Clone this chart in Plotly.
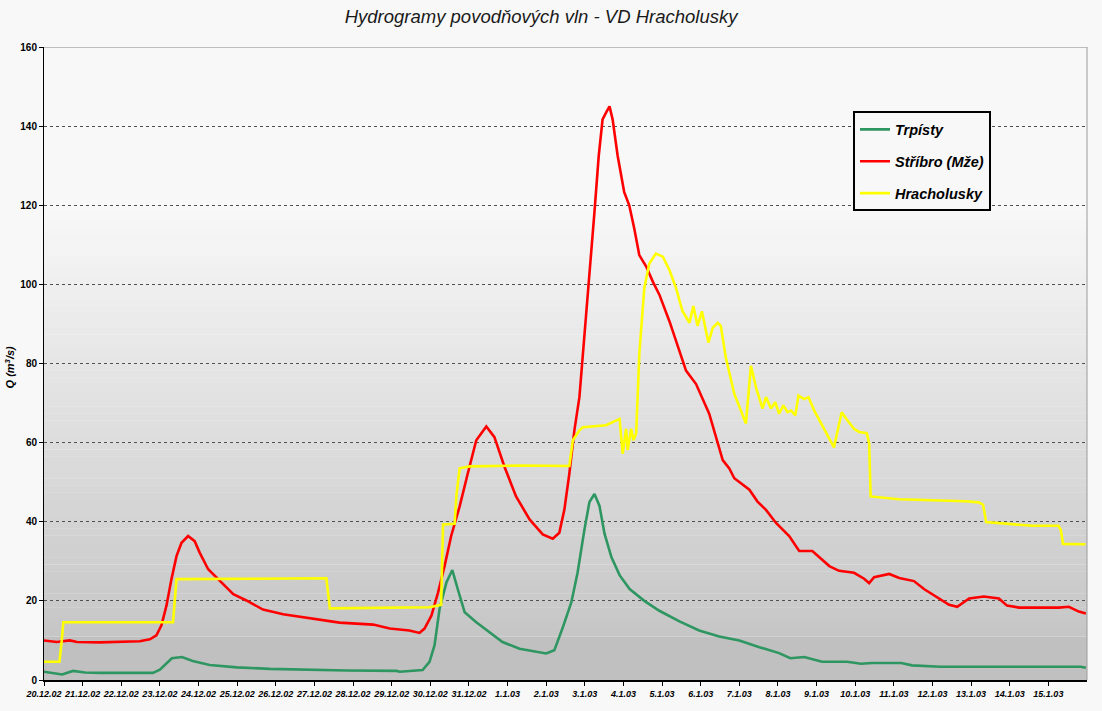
import pandas as pd
import plotly.graph_objects as go

START = "2002-12-20"
TITLE = "Hydrogramy povodňových vln - VD Hracholusky"
Y_TITLE = "Q (m<sup>3</sup>/s)"

# --- Trpísty (days since 20.12.2002 00:00, Q in m3/s)
trp_days = [0.00, 0.47, 0.75, 1.06, 1.45, 2.82, 3.00, 3.15, 3.31, 3.57, 3.85, 4.29, 4.99, 5.84,
            6.96, 7.84, 9.13, 9.21, 9.80, 9.98, 10.11, 10.24, 10.42, 10.57, 10.71, 10.89, 11.19,
            11.53, 11.87, 12.31, 12.74, 13.00, 13.21, 13.42, 13.65, 13.81, 13.99, 14.12, 14.25,
            14.38, 14.51, 14.69, 14.90, 15.16, 15.54, 15.93, 16.45, 16.96, 17.48, 18.00, 18.52,
            19.03, 19.32, 19.68, 20.14, 20.79, 21.15, 21.44, 22.19, 22.47, 23.20, 26.84, 26.97]
trp_q = [2.1, 1.4, 2.3, 1.9, 1.8, 1.8, 2.6, 4.0, 5.5, 5.8, 4.8, 3.8, 3.2, 2.8,
         2.5, 2.4, 2.3, 2.1, 2.5, 4.6, 8.8, 18.0, 24.7, 27.8, 23.0, 17.1, 14.6,
         12.1, 9.6, 7.9, 7.1, 6.7, 7.5, 13.0, 19.6, 27.0, 38.0, 45.0, 47.0,
         44.0, 37.0, 31.0, 26.5, 23.0, 20.0, 17.5, 14.8, 12.5, 11.0, 10.0, 8.3,
         6.8, 5.5, 5.8, 4.6, 4.6, 4.1, 4.3, 4.3, 3.7, 3.35, 3.35, 3.1]

# --- Stříbro (Mže)
str_days = [0.00, 0.33, 0.67, 0.85, 1.45, 2.48, 2.74, 2.91, 3.04, 3.17, 3.30, 3.43, 3.56, 3.73,
            3.90, 4.03, 4.25, 4.55, 4.90, 5.24, 5.67, 6.19, 6.96, 7.65, 8.52, 8.95, 9.46, 9.72,
            9.85, 10.03, 10.20, 10.37, 10.54, 10.76, 10.97, 11.19, 11.45, 11.66, 11.92, 12.22,
            12.57, 12.91, 13.17, 13.34, 13.47, 13.60, 13.73, 13.86, 13.95, 14.12, 14.25, 14.36,
            14.46, 14.55, 14.64, 14.72, 14.85, 15.02, 15.15, 15.28, 15.41, 15.59, 15.76, 15.93,
            16.19, 16.62, 16.88, 17.22, 17.57, 17.74, 17.87, 18.26, 18.47, 18.69, 18.95, 19.29,
            19.55, 19.89, 19.98, 20.33, 20.58, 20.97, 21.23, 21.36, 21.49, 21.88, 22.14, 22.52,
            22.78, 23.17, 23.43, 23.64, 23.95, 24.33, 24.72, 24.93, 25.24, 26.27, 26.53, 26.79,
            26.97]
str_q = [10.0, 9.6, 10.0, 9.6, 9.5, 9.8, 10.3, 11.3, 13.8, 18.8, 25.5, 31.3, 34.7, 36.4,
         35.1, 32.2, 28.0, 25.1, 21.7, 20.1, 17.8, 16.6, 15.5, 14.5, 14.0, 13.0, 12.5, 11.9,
         13.0, 16.3, 22.1, 28.8, 36.4, 43.9, 52.2, 60.6, 64.1, 61.4, 53.9, 46.4,
         40.6, 36.8, 35.7, 37.2, 43.0, 52.2, 63.1, 71.5, 82.3, 101.6, 118.3, 132.5,
         141.7, 143.4, 145.0, 141.7, 132.5, 123.3, 120.0, 114.1, 107.4, 104.5, 100.7, 97.4,
         90.7, 78.2, 74.8, 67.3, 55.6, 53.5, 51.0, 48.1, 45.1, 43.0, 39.7, 36.4,
         32.6, 32.6, 31.8, 28.8, 27.6, 27.1, 25.6, 24.5, 26.0, 26.8, 25.8, 25.0,
         23.0, 20.6, 19.0, 18.5, 20.6, 21.1, 20.6, 18.8, 18.3, 18.3, 18.5, 17.3,
         16.8]

# --- Hracholusky
hra_days = [0.00, 0.40, 0.46, 0.50, 3.34, 3.39, 3.43, 7.31, 7.36, 7.40, 9.98, 10.28, 10.33,
            10.63, 10.68, 10.76, 11.02, 12.31, 13.60, 13.69, 13.86, 13.95, 14.55, 14.90, 14.98,
            15.07, 15.11, 15.20, 15.26, 15.33, 15.41, 15.54, 15.67, 15.84, 16.02, 16.19, 16.36,
            16.53, 16.71, 16.81, 16.92, 17.03, 17.20, 17.31, 17.44, 17.52, 17.65, 17.87, 18.04,
            18.17, 18.30, 18.43, 18.60, 18.69, 18.82, 18.93, 19.03, 19.14, 19.25, 19.34, 19.45,
            19.53, 19.68, 19.79, 19.94, 20.07, 20.28, 20.45, 20.54, 20.65, 20.80, 20.97, 21.10,
            21.30, 21.36, 21.40, 22.14, 23.00, 23.86, 24.20, 24.31, 24.39, 24.98, 25.58, 26.26,
            26.32, 26.38, 26.96]
hra_q = [4.6, 4.6, 10.0, 14.6, 14.6, 20.0, 25.5, 25.7, 21.0, 18.1, 18.4, 19.0, 39.3,
         39.5, 47.0, 53.5, 54.0, 54.2, 54.1, 60.6, 63.1, 63.9, 64.4, 66.0, 57.2,
         63.5, 58.1, 63.5, 60.6, 62.3, 82.3, 99.1, 105.3, 107.8, 107.0, 103.6, 99.1,
         93.2, 90.3, 94.5, 89.5, 93.2, 85.3, 89.0, 90.3, 89.5, 81.5, 72.3, 68.1,
         64.8, 79.4, 74.0, 68.6, 71.5, 68.6, 70.2, 67.3, 69.4, 67.7, 68.1, 66.9,
         71.9, 71.0, 71.5, 68.1, 65.6, 61.9, 58.8, 63.1, 67.7, 65.6, 63.5, 62.7,
         62.4, 59.8, 46.4, 45.7, 45.5, 45.2, 44.9, 44.3, 39.9, 39.5, 39.0, 39.0,
         38.0, 34.4, 34.3]

# --- axis ticks
x_tick_dates = pd.date_range("2002-12-20", "2003-01-15", freq="D")
x_tick_labels = ["20.12.02", "21.12.02", "22.12.02", "23.12.02", "24.12.02", "25.12.02",
                 "26.12.02", "27.12.02", "28.12.02", "29.12.02", "30.12.02", "31.12.02",
                 "1.1.03", "2.1.03", "3.1.03", "4.1.03", "5.1.03", "6.1.03", "7.1.03",
                 "8.1.03", "9.1.03", "10.1.03", "11.1.03", "12.1.03", "13.1.03", "14.1.03",
                 "15.1.03"]
y_ticks = [0, 20, 40, 60, 80, 100, 120, 140, 160]

FONT = "Liberation Sans, Arial, sans-serif"


def to_dt(days):
    return pd.Timestamp(START) + pd.to_timedelta(days, unit="D")


fig = go.Figure()
series = [
    ("Trpísty", trp_days, trp_q, "#2e9661"),
    ("Stříbro (Mže)", str_days, str_q, "#ff0000"),
    ("Hracholusky", hra_days, hra_q, "#ffff00"),
]
for name, d, q, col in series:
    fig.add_trace(go.Scatter(x=to_dt(d), y=q, mode="lines", name=name, legendgroup=name,
                             line=dict(color=col, width=2.6)))

# background gradient of plot area
shapes = []
shapes.append(dict(type="rect", xref="paper", yref="y", x0=0, x1=1, y0=0, y1=11,
                   fillcolor="#c0c0c0", line=dict(width=0), layer="below"))
N = 60
lo, hi = 11.0, 120.0
c_lo, c_hi = 0xc6, 0xf8
for i in range(N):
    v0 = lo + (hi - lo) * i / N
    v1 = lo + (hi - lo) * (i + 1) / N
    c = int(round(c_lo + (c_hi - c_lo) * (i + 0.5) / N))
    col = f"rgb({c},{c},{c})"
    shapes.append(dict(type="rect", xref="paper", yref="y", x0=0, x1=1, y0=v0, y1=v1 + 0.05,
                       fillcolor=col, line=dict(width=0), layer="below"))
# top border and right border
shapes.append(dict(type="line", xref="paper", yref="y", x0=0, x1=1, y0=160, y1=160,
                   line=dict(color="#bdbdbd", width=2), layer="above"))
shapes.append(dict(type="line", xref="paper", yref="paper", x0=1, x1=1, y0=0, y1=1,
                   line=dict(color="#9a9a9a", width=1), layer="above"))

fig.update_layout(
    width=1102, height=711,
    margin=dict(l=44, r=15, t=47, b=26),
    paper_bgcolor="#f8f8f8",
    plot_bgcolor="#f8f8f8",
    font=dict(family=FONT, color="#000000"),
    title=dict(text=TITLE, x=0.491, xanchor="center", y=1 - 17 / 711, yanchor="middle",
               font=dict(family=FONT, size=18.5, style="italic", color="#1a1a1a")),
    shapes=shapes,
    showlegend=True,
    legend=dict(x=(991 - 44) / 1043, y=(685 - 112) / 638, xanchor="right", yanchor="top",
                bgcolor="#f8f8f8", bordercolor="#000000", borderwidth=2,
                font=dict(family=FONT, size=14.5, weight="bold", style="italic", color="#000000"),
                tracegroupgap=10),
    annotations=[dict(text=Y_TITLE, xref="paper", yref="paper", x=(10 - 44) / 1043,
                      y=(685 - 370) / 638, xanchor="center", yanchor="middle",
                      textangle=-90, showarrow=False,
                      font=dict(family=FONT, size=11, weight="bold", style="italic"))],
)
fig.update_xaxes(
    type="date",
    range=[to_dt(0), to_dt(27)],
    tickvals=list(x_tick_dates), ticktext=x_tick_labels,
    ticks="outside", ticklen=4, tickcolor="#000000", tickwidth=1,
    showline=True, linecolor="#000000", linewidth=2,
    showgrid=False, zeroline=False,
    tickfont=dict(family=FONT, size=9, weight="bold", style="italic", color="#000000"),
)
fig.update_yaxes(
    range=[0, 160], tickvals=y_ticks,
    ticks="outside", ticklen=4, tickcolor="#000000", tickwidth=1,
    showline=True, linecolor="#000000", linewidth=1,
    showgrid=True, gridcolor="#505050", griddash="dot", gridwidth=1,
    zeroline=False,
    tickfont=dict(family=FONT, size=10, weight="bold", color="#000000"),
)

fig.write_html("out.html")
